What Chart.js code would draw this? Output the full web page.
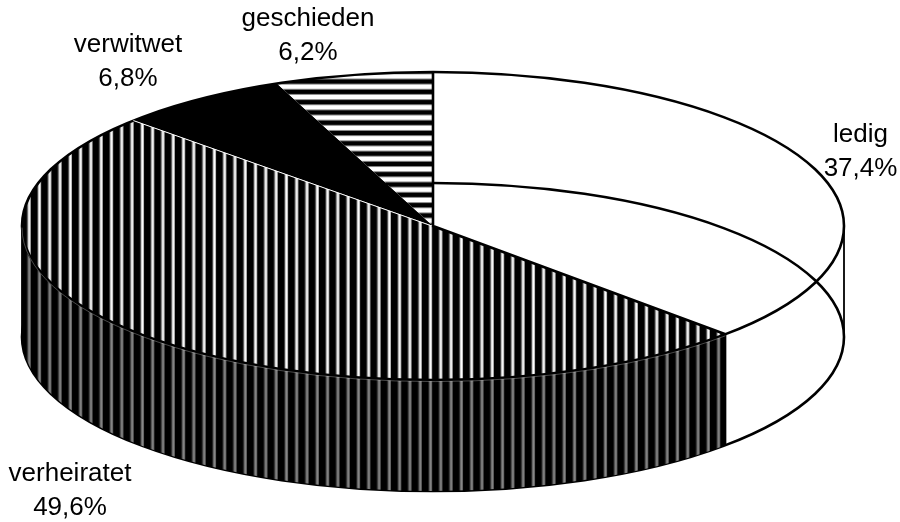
<!DOCTYPE html>
<html>
<head>
<meta charset="utf-8">
<style>
html, body { margin: 0; padding: 0; background: #fff; }
canvas { display: block; }
</style>
<script src="https://cdn.jsdelivr.net/npm/chart.js@4/dist/chart.umd.min.js"></script>
</head>
<body>
<canvas id="chart" width="900" height="522"></canvas>
<script>
// categories and shares
const categories = ['ledig', 'verheiratet', 'verwitwet', 'geschieden'];
const shares = [37.4, 49.6, 6.8, 6.2];

// where the 3d pie ends up on the page
const face = { x: 433, y: 226, rx: 411, ry: 154, depth: 111 };

// label centres and baselines
const labelSpots = [
    { x: 860.5, y: 142 },
    { x: 70, y: 481 },
    { x: 128, y: 52 },
    { x: 308, y: 26 }
];

function stripeTile(size, horizontal, lines) {
    const tile = document.createElement('canvas');
    tile.width = horizontal ? 1 : size;
    tile.height = horizontal ? size : 1;
    const c = tile.getContext('2d');
    c.fillStyle = '#000';
    c.fillRect(0, 0, tile.width, tile.height);
    lines.forEach(([from, len, col]) => {
        c.fillStyle = col;
        if (horizontal) c.fillRect(0, from, 1, len);
        else c.fillRect(from, 0, len, 1);
    });
    return tile;
}

const ctx = document.getElementById('chart').getContext('2d');
const topStripes = ctx.createPattern(stripeTile(10, false, [[4, 1, '#ccc'], [5, 1, '#fff'], [6, 1, '#bbb'], [3, 1, '#444']]), 'repeat');
const wallStripes = ctx.createPattern(stripeTile(10, false, [[4, 1, '#666'], [5, 1, '#888'], [6, 1, '#666'], [3, 1, '#222']]), 'repeat');
const flatStripes = ctx.createPattern(stripeTile(10, true, [[2, 1, '#888'], [3, 4, '#fff'], [7, 1, '#888']]), 'repeat');

const pie3d = {
    id: 'pie3d',
    beforeDatasetsDraw(chart) {
        const c = chart.ctx;
        const arcs = chart.getDatasetMeta(0).data;
        const pie = arcs[0];
        const sx = face.rx / pie.outerRadius;
        const sy = face.ry / pie.outerRadius;
        const squash = new DOMMatrix().translate(face.x, face.y).scale(sx, sy).translate(-pie.x, -pie.y);
        const unsquash = squash.inverse();

        // patterns must stay on page pixels even though the face is squashed
        topStripes.setTransform(unsquash.translate(3.06, 0).scale(1.029, 1));
        flatStripes.setTransform(unsquash.translate(0, -0.85).scale(1, 1.03));
        wallStripes.setTransform(new DOMMatrix().translate(3.06, 0).scale(1.029, 1));

        // floor ellipse, it shows through the empty slice
        c.save();
        c.strokeStyle = '#000';
        c.lineWidth = 2.6;
        c.beginPath();
        c.ellipse(face.x, face.y + face.depth, face.rx, face.ry, 0, 0, Math.PI * 2);
        c.stroke();

        // side wall of the slices facing us
        arcs.forEach((arc, i) => {
            const from = Math.max(arc.startAngle, 0);
            const to = Math.min(arc.endAngle, Math.PI);
            if (to <= from || i !== 1) return;
            c.beginPath();
            c.ellipse(face.x, face.y, face.rx, face.ry, 0, from, to);
            c.ellipse(face.x, face.y + face.depth, face.rx, face.ry, 0, to, from, true);
            c.closePath();
            c.fillStyle = wallStripes;
            c.fill();
        });

        // upright edges
        c.lineWidth = 1.8;
        [0, arcs[0].endAngle, Math.PI].forEach(a => {
            const x = face.x + face.rx * Math.cos(a);
            const y = face.y + face.ry * Math.sin(a);
            c.beginPath();
            c.moveTo(x, y);
            c.lineTo(x, y + face.depth);
            c.stroke();
        });
        c.restore();

        c.save();
        c.translate(face.x, face.y);
        c.scale(sx, sy);
        c.translate(-pie.x, -pie.y);
    },
    afterDatasetsDraw(chart) {
        const c = chart.ctx;
        c.restore();
        const arcs = chart.getDatasetMeta(0).data;
        const rim = (a) => [face.x + face.rx * Math.cos(a), face.y + face.ry * Math.sin(a)];

        c.save();
        c.strokeStyle = '#000';
        c.lineWidth = 2.6;
        c.beginPath();
        c.ellipse(face.x, face.y, face.rx, face.ry, 0, 0, Math.PI * 2);
        c.stroke();

        // spokes of the empty slice
        c.beginPath();
        c.moveTo(...rim(arcs[0].startAngle));
        c.lineTo(face.x, face.y);
        c.lineTo(...rim(arcs[0].endAngle));
        c.stroke();

        // thin light seam next to the black slice
        c.strokeStyle = '#fff';
        c.lineWidth = 1;
        c.beginPath();
        c.moveTo(face.x - 1, face.y);
        c.lineTo(...rim(arcs[1].endAngle));
        c.stroke();

        // same kind of seam under the front rim
        c.strokeStyle = 'rgba(255,255,255,0.4)';
        c.lineWidth = 0.7;
        c.beginPath();
        c.ellipse(face.x, face.y + 1.6, face.rx, face.ry, 0, arcs[1].startAngle, Math.PI);
        c.stroke();
        c.restore();

        // text
        c.save();
        c.fillStyle = '#000';
        c.font = '26px "Liberation Sans", Arial, sans-serif';
        c.textAlign = 'center';
        categories.forEach((name, i) => {
            const spot = labelSpots[i];
            c.fillText(name, spot.x, spot.y);
            c.fillText(shares[i].toFixed(1).replace('.', ',') + '%', spot.x, spot.y + 34);
        });
        c.restore();
    }
};

new Chart(ctx, {
    type: 'pie',
    data: {
        labels: categories,
        datasets: [{
            data: shares,
            backgroundColor: ['rgba(255,255,255,0)', topStripes, '#000', flatStripes],
            borderWidth: 0
        }]
    },
    options: {
        responsive: false,
        devicePixelRatio: 1,
        animation: false,
        events: [],
        plugins: {
            legend: { display: false },
            tooltip: { enabled: false }
        }
    },
    plugins: [pie3d]
});
</script>
</body>
</html>
